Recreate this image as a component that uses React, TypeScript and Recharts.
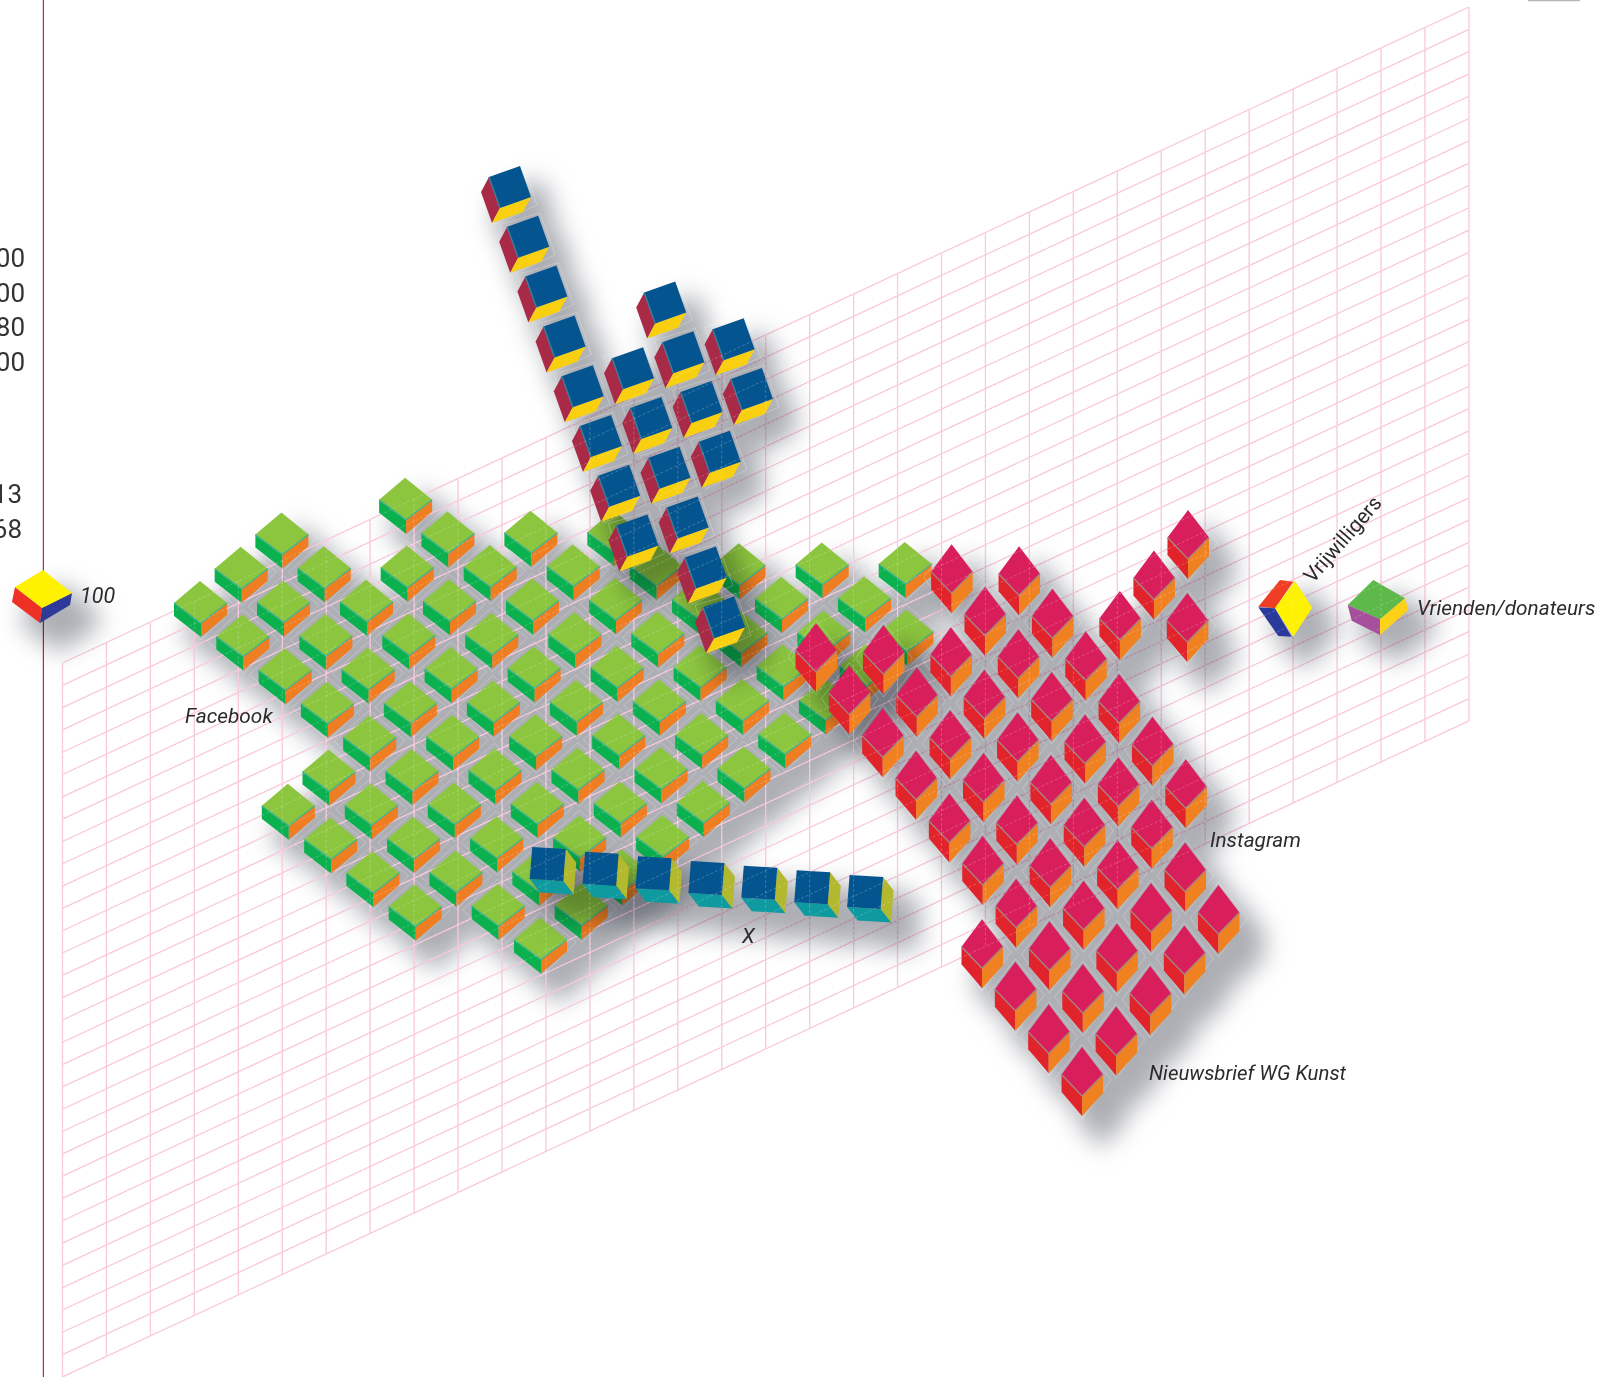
import React from 'react';
import { ScatterChart, Scatter, XAxis, YAxis } from 'recharts';

const WIDTH = 1611;
const HEIGHT = 1377;

// wall grid, cols/rows of the sheared plane
const gridCols = [0, 1, 2, 3, 4, 5, 6, 7, 8, 9, 10, 11, 12, 13, 14, 15, 16, 17, 18, 19, 20, 21, 22, 23, 24, 25, 26, 27, 28, 29, 30, 31, 32];
const gridRows = [0, 1, 2, 3, 4, 5, 6, 7, 8, 9, 10, 11, 12, 13, 14, 15, 16, 17, 18, 19, 20, 21, 22, 23, 24, 25, 26, 27, 28, 29, 30, 31, 32];

// Facebook: lattice rows and which lattice columns are filled in each
const facebookRowIds = [-3, -2, -1, 0, 1, 2, 3, 4, 5, 6, 7, 8, 9, 10];
const facebookCols = [
  [5],
  [2, 6, 8, 10],
  [1, 3, 5, 7, 9, 11, 13, 15, 17],
  [0, 2, 4, 6, 8, 10, 12, 14, 16],
  [1, 3, 5, 7, 9, 11, 13, 15, 17],
  [2, 4, 6, 8, 10, 12, 14, 16],
  [3, 5, 7, 9, 11, 13, 15],
  [4, 6, 8, 10, 12, 14],
  [3, 5, 7, 9, 11, 13],
  [2, 4, 6, 8, 10, 12],
  [3, 5, 7, 9, 11],
  [4, 6, 8, 10],
  [5, 7, 9],
  [8],
];

// Instagram + Nieuwsbrief WG Kunst
const redRowIds = [-3, -2, -1, 0, 1, 2, 3, 4, 5, 6, 7, 8, 9, 10];
const redCols = [
  [11],
  [4, 6, 10],
  [5, 7, 9, 11],
  [0, 2, 4, 6, 8],
  [1, 3, 5, 7, 9],
  [2, 4, 6, 8, 10],
  [3, 5, 7, 9, 11],
  [4, 6, 8, 10],
  [5, 7, 9, 11],
  [6, 8, 10, 12],
  [5, 7, 9, 11],
  [6, 8, 10],
  [7, 9],
  [8],
];

// blue group on top of the wall
const blueColIds = [0, 1, 2, 3];
const blueSteps = [
  [0, 1, 2, 3, 4, 5, 6, 7],
  [4, 5, 6, 7, 8, 9],
  [3, 4, 5, 6],
  [4, 5],
];

const xSteps = [0, 1, 2, 3, 4, 5, 6];

const sideNumbers = ['00', '00', '80', '00', '13', '68'];
const sideNumberY = [267, 302, 336, 371, 503, 538];
const sideNumberRight = [25, 25, 25, 25, 22, 22];

const labelNames = ['100', 'Facebook', 'Instagram', 'Nieuwsbrief WG Kunst', 'X', 'Vrienden/donateurs', 'Vrijwilligers'];
const labelX = [80, 185, 1210, 1149, 742, 1417, 1313];
const labelY = [603, 723, 847, 1080, 943, 615, 584];

const facebookCubes = facebookRowIds.flatMap((r, i) =>
  facebookCols[i].map((c) => ({ x: 200 + 41.5 * c + 0.8 * r, y: 602 + 33.9 * r - 0.3 * c }))
);
const redCubes = redRowIds.flatMap((r, i) =>
  redCols[i].map((c) => ({ x: 816 + 33.72 * c - 0.37 * r, y: 648 + 41.55 * r + 1.06 * c }))
);
// right hand columns sit a little lower than a straight lattice
const blueColDrift = [0, 0, 2, 7];
const blueCubes = blueColIds.flatMap((j, i) =>
  blueSteps[i].map((k) => ({ x: 510 + 50.3 * j + 18.2 * k, y: 187 - 18 * j + 49.8 * k + blueColDrift[i] }))
);
const xCubes = xSteps.map((k) => ({ x: 547.7 + 52.9 * k, y: 864 + 4.67 * k }));
const legendCube = [{ x: 43, y: 589 }];
const volunteerCube = [{ x: 1285, y: 608 }];
const friendsCube = [{ x: 1377, y: 607 }];

const sideTexts = sideNumbers.map((t, i) => ({ x: sideNumberRight[i], y: sideNumberY[i], text: t }));
const labelTexts = labelNames.map((t, i) => ({ x: labelX[i], y: labelY[i], text: t }));

type Pt = [number, number];
type Face = { pts: Pt[]; fill: string };
type Geom = { faces: Face[]; seam?: { pts: Pt[]; color: string }; halo?: Pt[] };

const greenGeom: Geom = {
  faces: [
    { pts: [[-26, 1], [1, 21], [1, 35], [-26, 14]], fill: '#0bb14f' },
    { pts: [[1, 21], [27, 1], [27, 13], [1, 35]], fill: '#ef7d22' },
    { pts: [[0, -21], [27, 1], [1, 21], [-26, 1]], fill: '#8cc63f' },
  ],
  seam: { pts: [[-26, 1], [1, 21], [27, 1]], color: '#45b58a' },
  halo: [[-35, 5], [0, -26], [36, 4], [1, 38]],
};
const redGeom: Geom = {
  faces: [
    { pts: [[-20.5, 2.5], [0, 24], [0, 44], [-20.5, 20]], fill: '#e1242b' },
    { pts: [[0, 24], [21, 2.5], [21, 21], [0, 44]], fill: '#f08120' },
    { pts: [[0, -25], [21, 2.5], [0, 24], [-20.5, 2.5]], fill: '#d81e5b' },
  ],
  seam: { pts: [[-20.5, 2.5], [0, 24], [21, 2.5]], color: '#a9817f' },
  halo: [[-28, 8], [0, -28], [29, 8], [0, 47]],
};
const blueGeom: Geom = {
  faces: [
    { pts: [[-21, -10], [-10, 21], [-18, 36], [-29, 5]], fill: '#a92a47' },
    { pts: [[-10, 21], [21, 10], [13, 25], [-18, 36]], fill: '#f8d00f' },
    { pts: [[-21, -10], [10, -21], [21, 10], [-10, 21]], fill: '#04558f' },
  ],
  seam: { pts: [[-21, -10], [-10, 21]], color: '#3b7f9c' },
  halo: [[-29, -12], [12, -24], [27, 18], [-14, 37]],
};
const xGeom: Geom = {
  faces: [
    { pts: [[18, -15], [28.5, -1.5], [26, 30.5], [15.5, 17]], fill: '#b3b92e' },
    { pts: [[-18, 15], [15.5, 17], [26, 30.5], [-7.5, 28.5]], fill: '#0e9a9f' },
    { pts: [[-15.5, -17], [18, -15], [15.5, 17], [-18, 15]], fill: '#04558f' },
  ],
};
const legendGeom: Geom = {
  faces: [
    { pts: [[-28, -2], [-1, 19], [-3, 34], [-31, 13]], fill: '#ee3124' },
    { pts: [[-1, 19], [29, 4], [27, 16], [-3, 34]], fill: '#2e3a97' },
    { pts: [[0, -19], [29, 4], [-1, 19], [-28, -2]], fill: '#fff200' },
  ],
};
const volunteerGeom: Geom = {
  faces: [
    { pts: [[-5, -28], [8.3, -26.3], [-10, 0.3], [-26.7, -1.3]], fill: '#ef3e23' },
    { pts: [[10, -27], [27.3, -0.3], [8.3, 28.7], [-10, 0.3]], fill: '#fff200' },
    { pts: [[-26.7, -0.7], [-10, 0.3], [6.7, 28.7], [-6.7, 28]], fill: '#2a3a9a' },
  ],
};
const friendsGeom: Geom = {
  faces: [
    { pts: [[-3.7, -27], [28, -8.7], [3, 12.3], [-29.3, -2]], fill: '#5cb94a' },
    { pts: [[-29.3, -2], [3, 12.3], [3, 28], [-25.3, 13.7]], fill: '#a64f9c' },
    { pts: [[3, 12.3], [28, -8.7], [31.3, 3], [3, 28]], fill: '#fcd116' },
  ],
};

const toPoints = (pts: Pt[], dx = 0, dy = 0, k = 1) => pts.map((p) => `${p[0] * k + dx},${p[1] * k + dy}`).join(' ');

const cubeShape = (geom: Geom) => (props: any) => (
  <g>
    {geom.halo && (
      <polygon points={toPoints(geom.halo, props.cx, props.cy)} fill="none" stroke="#fff" strokeOpacity={0.3} strokeWidth={0.8} />
    )}
    {geom.faces.map((f, i) => (
      <polygon key={i} points={toPoints(f.pts, props.cx, props.cy)} fill={f.fill} />
    ))}
    {geom.seam && (
      <polyline points={toPoints(geom.seam.pts, props.cx, props.cy)} fill="none" stroke={geom.seam.color} strokeWidth={1.4} />
    )}
  </g>
);

// opaque per cube: the blur and the multiply sit on the whole series (see .cube-shadow)
const shadowShape = (geom: Geom, off = 19) => (props: any) => (
  <g>
    {geom.faces.map((f, i) => (
      <polygon key={i} points={toPoints(f.pts, props.cx + off, props.cy + off, 1.3)} fill="#acaeb4" />
    ))}
  </g>
);

const NoMark = () => <g />;

const SideText = (props: any) => (
  <text x={props.cx} y={props.cy} textAnchor="end" style={{ fontFamily: 'Roboto, sans-serif', fontSize: 26, fill: '#333' }}>
    {props.payload.text}
  </text>
);

const LabelText = (props: any) => {
  const { text } = props.payload;
  const size = text === '100' ? 21.5 : text.startsWith('Nieuws') ? 20.4 : 20.8;
  const turned = text === 'Vrijwilligers';
  return (
    <text
      x={props.cx}
      y={props.cy}
      transform={turned ? `rotate(-49 ${props.cx} ${props.cy})` : undefined}
      style={{ fontFamily: 'Roboto, sans-serif', fontStyle: turned ? 'normal' : 'italic', fontSize: size, fill: '#2b2b2b' }}
    >
      {text}
    </text>
  );
};

const gridStart = (col: number, row: number) => ({ x: 62.5 + 43.95 * col, y: 663 - 20.5 * col + 22.31 * row });

const GridLines = ({ color, width, opacity, dash }: any) => [
  ...gridCols.map((c) => (
    <Scatter
      key={`c${c}`}
      data={[gridStart(c, 0), gridStart(c, 32)]}
      shape={NoMark}
      line={{ stroke: color, strokeWidth: width, strokeOpacity: opacity, strokeDasharray: dash }}
      isAnimationActive={false}
    />
  )),
  ...gridRows.map((r) => (
    <Scatter
      key={`r${r}`}
      data={[gridStart(0, r), gridStart(32, r)]}
      shape={NoMark}
      line={{ stroke: color, strokeWidth: width, strokeOpacity: opacity, strokeDasharray: dash }}
      isAnimationActive={false}
    />
  )),
];

export default function App() {
  return (
    <div style={{ position: 'absolute', left: 0, top: 0, width: WIDTH, height: HEIGHT, background: '#fff', overflow: 'hidden' }}>
      <style>{`.cube-shadow { filter: blur(12px); mix-blend-mode: multiply; }`}</style>
      <ScatterChart width={WIDTH} height={HEIGHT} margin={{ top: 0, right: 0, bottom: 0, left: 0 }}>
        <XAxis type="number" dataKey="x" domain={[0, WIDTH]} hide />
        <YAxis type="number" dataKey="y" domain={[0, HEIGHT]} reversed hide />

        {/* axis line on the left, scrap of rule top right */}
        <Scatter data={[{ x: 43.4, y: 0 }, { x: 43.4, y: HEIGHT }]} shape={NoMark} line={{ stroke: '#c1272d', strokeWidth: 1.2 }} isAnimationActive={false} />
        <Scatter data={[{ x: 1528, y: 0.5 }, { x: 1580, y: 0.5 }]} shape={NoMark} line={{ stroke: '#b5b5b5', strokeWidth: 1.5 }} isAnimationActive={false} />

        <Scatter className="cube-shadow" data={facebookCubes} shape={shadowShape(greenGeom)} isAnimationActive={false} />
        {GridLines({ color: '#f8c2d8', width: 1.25, opacity: 1 })}
        <Scatter data={facebookCubes} shape={cubeShape(greenGeom)} isAnimationActive={false} />

        <Scatter className="cube-shadow" data={redCubes} shape={shadowShape(redGeom)} isAnimationActive={false} />
        <Scatter data={redCubes} shape={cubeShape(redGeom)} isAnimationActive={false} />

        <Scatter className="cube-shadow" data={blueCubes} shape={shadowShape(blueGeom)} isAnimationActive={false} />
        <Scatter data={blueCubes} shape={cubeShape(blueGeom)} isAnimationActive={false} />

        <Scatter className="cube-shadow" data={xCubes} shape={shadowShape(xGeom)} isAnimationActive={false} />
        <Scatter data={xCubes} shape={cubeShape(xGeom)} isAnimationActive={false} />

        <Scatter className="cube-shadow" data={legendCube} shape={shadowShape(legendGeom)} isAnimationActive={false} />
        <Scatter data={legendCube} shape={cubeShape(legendGeom)} isAnimationActive={false} />
        <Scatter className="cube-shadow" data={volunteerCube} shape={shadowShape(volunteerGeom)} isAnimationActive={false} />
        <Scatter data={volunteerCube} shape={cubeShape(volunteerGeom)} isAnimationActive={false} />
        <Scatter className="cube-shadow" data={friendsCube} shape={shadowShape(friendsGeom)} isAnimationActive={false} />
        <Scatter data={friendsCube} shape={cubeShape(friendsGeom)} isAnimationActive={false} />

        {/* wall shows faintly through the cubes */}
        {GridLines({ color: '#ffffff', width: 1, opacity: 0.22, dash: '3 2' })}

        <Scatter data={sideTexts} shape={SideText} isAnimationActive={false} />
        <Scatter data={labelTexts} shape={LabelText} isAnimationActive={false} />
      </ScatterChart>
    </div>
  );
}
